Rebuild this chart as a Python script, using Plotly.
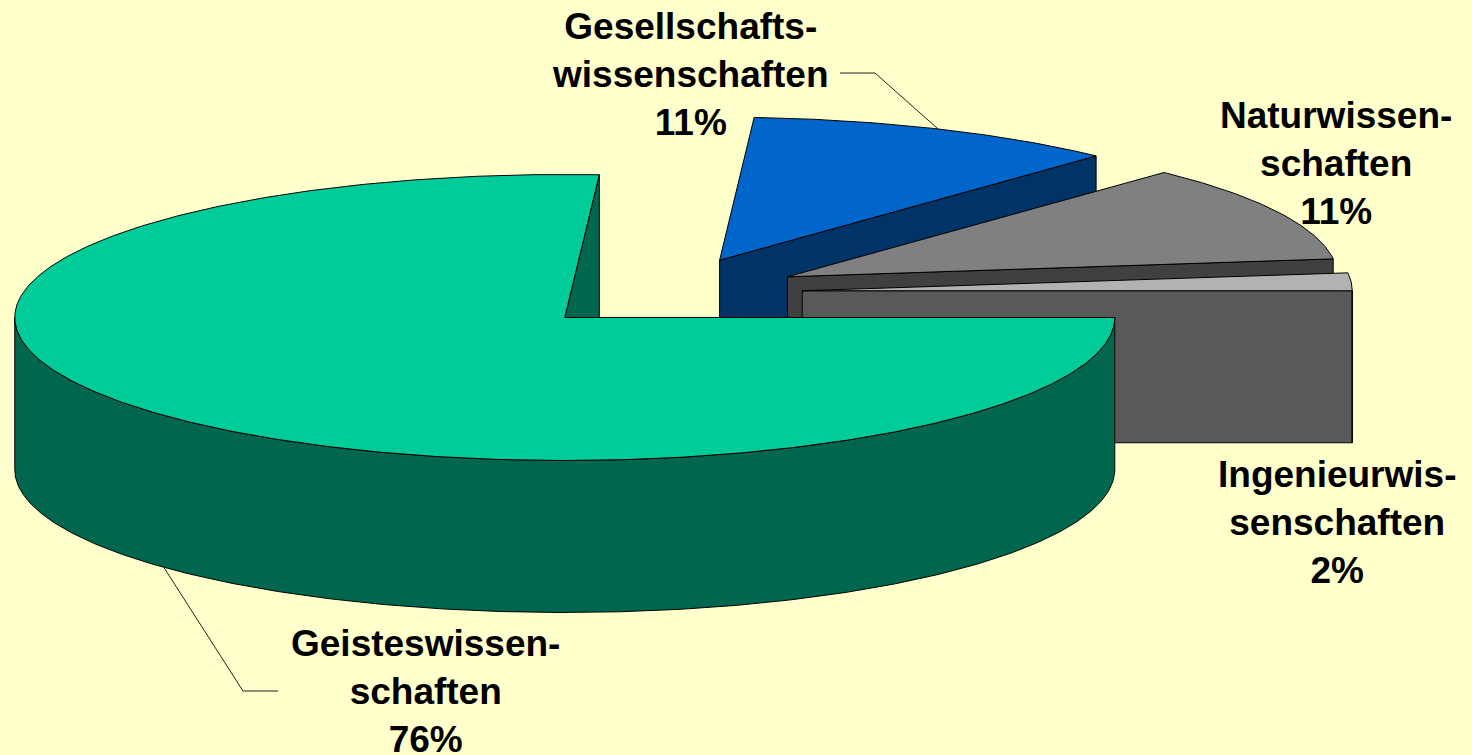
import numpy as np
import plotly.graph_objects as go

# ---- data ----
categories = ["Geisteswissen-\nschaften", "Gesellschafts-\nwissenschaften",
              "Naturwissen-\nschaften", "Ingenieurwis-\nsenschaften"]
values = [76, 11, 11, 2]

# ---- styles ----
top_colors = ["#00CC99", "#0066CC", "#808080", "#B2B2B2"]
side_colors = ["#00664D", "#003366", "#404040", "#595959"]
BG = "#FFFFCC"

# ---- geometry (layout) ----
W, H = 1472, 755
CX, CY = 665, 293
RX, RY = 550, 143
DEPTH = 152
EXPLODE = 0.25

label_pos = [(425, 691), (690, 74), (1336, 163), (1337, 522)]
leaders = {0: [(243, 691), (278, 691)], 1: [(875, 73), (840, 73)]}


def rim(cx, cy, a, dz=0.0):
    t = np.radians(a)
    return cx + RX * np.cos(t), cy + RY * np.sin(t) + dz


def arc(cx, cy, a0, a1, dz=0.0):
    n = max(2, int(abs(a1 - a0) / 0.5) + 1)
    ang = np.linspace(a0, a1, n)
    t = np.radians(ang)
    return list(cx + RX * np.cos(t)), list(cy + RY * np.sin(t) + dz)


total = float(sum(values))
slices = []
start = 0.0
for i, v in enumerate(values):
    sweep = 360.0 * v / total
    a0, a1 = start, start + sweep
    mid = np.radians((a0 + a1) / 2)
    cx = CX + EXPLODE * RX * np.cos(mid)
    cy = CY + EXPLODE * RY * np.sin(mid)
    slices.append(dict(i=i, a0=a0, a1=a1, cx=cx, cy=cy, mid=(a0 + a1) / 2))
    start = a1

fig = go.Figure()


def poly(xs, ys, color, name):
    fig.add_trace(go.Scatter(
        x=xs + [xs[0]], y=ys + [ys[0]], mode="lines", fill="toself",
        fillcolor=color, line=dict(color="black", width=1),
        hoverinfo="skip", showlegend=False, name=name))


# painter's order: back slices first
for s in sorted(slices, key=lambda d: d["cy"]):
    i, a0, a1, cx, cy = s["i"], s["a0"], s["a1"], s["cx"], s["cy"]
    side = side_colors[i]
    # radial cut faces
    for a, visible in ((a0, np.cos(np.radians(a0)) < -1e-9),
                       (a1, np.cos(np.radians(a1)) > 1e-9)):
        if visible:
            px, py = rim(cx, cy, a)
            poly([cx, px, px, cx], [cy, py, py + DEPTH, cy + DEPTH], side, categories[i])
    # outer wall (front half)
    for lo, hi in ((0, 180), (360, 540)):
        b0, b1 = max(a0, lo), min(a1, hi)
        if b1 > b0:
            tx, ty = arc(cx, cy, b0, b1)
            bx, by = arc(cx, cy, b1, b0, DEPTH)
            poly(tx + bx, ty + by, side, categories[i])
    # top face
    tx, ty = arc(cx, cy, a0, a1)
    poly([cx] + tx, [cy] + ty, top_colors[i], categories[i])

# labels
annotations = []
for s in slices:
    i = s["i"]
    txt = "<b>" + categories[i].replace("\n", "<br>") + f"<br>{values[i]}%</b>"
    x, y = label_pos[i]
    annotations.append(dict(x=x, y=y, xref="x", yref="y", text=txt, showarrow=False,
                            xanchor="center", yanchor="middle", align="center",
                            font=dict(family="Arial, Liberation Sans, sans-serif",
                                      size=37, color="black")))

# leader lines from slice rim (mid-angle) to label
for i, pts in leaders.items():
    s = slices[i]
    dz = DEPTH if np.sin(np.radians(s["mid"])) > 0 else 0
    x0, y0 = rim(s["cx"], s["cy"], s["mid"], dz)
    xs = [x0] + [p[0] for p in pts]
    ys = [y0] + [p[1] for p in pts]
    fig.add_trace(go.Scatter(x=xs, y=ys, mode="lines",
                             line=dict(color="#222222", width=1),
                             hoverinfo="skip", showlegend=False))

fig.update_layout(
    width=W, height=H, margin=dict(l=0, r=0, t=0, b=0),
    paper_bgcolor=BG, plot_bgcolor=BG,
    xaxis=dict(range=[0, W], visible=False, fixedrange=True),
    yaxis=dict(range=[H, 0], visible=False, fixedrange=True),
    annotations=annotations, showlegend=False,
)
fig.write_html("out.html",
               config={"displayModeBar": False},
               post_script="document.body.style.margin='0';document.body.style.overflow='hidden';")
